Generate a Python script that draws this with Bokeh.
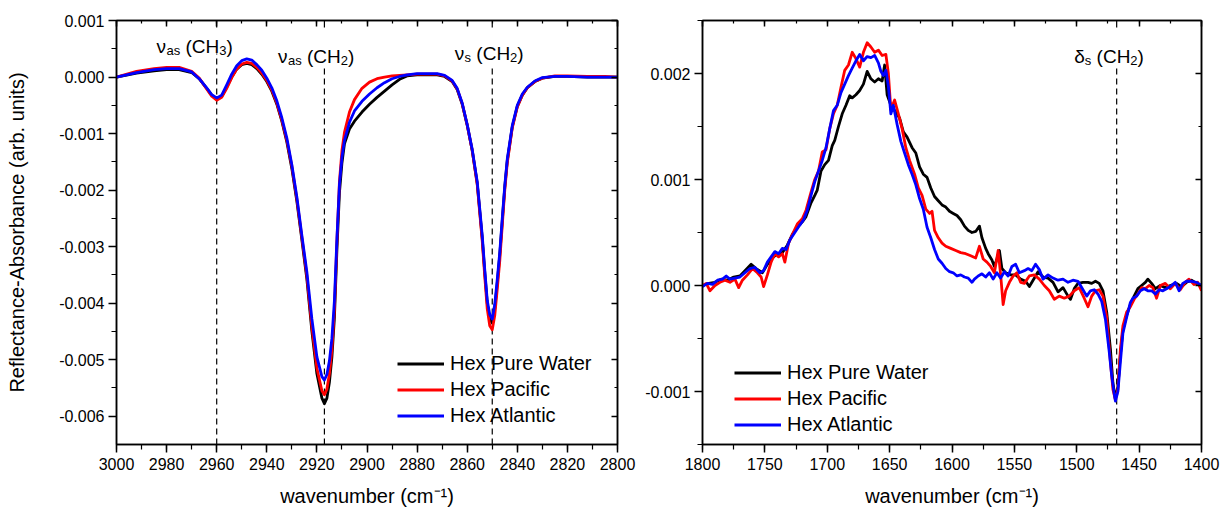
import numpy as np
from bokeh.plotting import figure
from bokeh.models import (Range1d, SingleIntervalTicker, LinearAxis, NumeralTickFormatter,
                          CustomJSTickFormatter, Label)
from bokeh.layouts import row
from bokeh.embed import file_html
from bokeh.resources import INLINE

FONT = "Liberation Sans"
SCALE = 1e-3  # values below are written in units of 0.001

# ---------------- C-H stretching region (left panel) ----------------
wn_ch = [3000, 2992, 2985, 2980, 2975, 2970, 2967, 2964, 2962, 2960,
         2958, 2956, 2954, 2952, 2950, 2948, 2946, 2944, 2942, 2940,
         2938, 2936, 2934, 2932, 2930, 2928, 2926, 2924, 2922, 2920,
         2918, 2917, 2916, 2915, 2914, 2913, 2912, 2911, 2910, 2909,
         2907, 2905, 2902, 2899, 2896, 2893, 2890, 2887, 2884, 2880,
         2876, 2872, 2869, 2866, 2864, 2862, 2860, 2858, 2856, 2854,
         2853, 2852, 2851, 2850, 2849, 2848, 2847, 2846, 2845, 2844,
         2842, 2840, 2838, 2836, 2833, 2830, 2825, 2820, 2812, 2805,
         2800]
pure_ch = [0.00, 0.07, 0.11, 0.13, 0.13, 0.08, -0.03, -0.20, -0.32, -0.39,
           -0.34, -0.18, 0.00, 0.14, 0.22, 0.24, 0.22, 0.15, 0.05, -0.08,
           -0.25, -0.48, -0.78, -1.15, -1.62, -2.20, -2.88, -3.58, -4.50, -5.25,
           -5.68, -5.78, -5.68, -5.40, -4.95, -4.25, -3.05, -2.05, -1.52, -1.18,
           -0.92, -0.78, -0.62, -0.48, -0.36, -0.25, -0.14, -0.04, 0.02, 0.04,
           0.04, 0.04, 0.01, -0.08, -0.22, -0.48, -0.85, -1.30, -1.88, -2.85,
           -3.45, -4.00, -4.28, -4.35, -4.10, -3.65, -3.15, -2.55, -1.95, -1.48,
           -0.88, -0.52, -0.32, -0.19, -0.08, -0.02, 0.01, 0.01, 0.00, 0.00,
           0.00]
pacific_ch = [0.00, 0.10, 0.15, 0.17, 0.17, 0.10, -0.02, -0.21, -0.34, -0.41,
              -0.36, -0.20, -0.01, 0.14, 0.23, 0.26, 0.24, 0.17, 0.07, -0.06,
              -0.23, -0.46, -0.76, -1.12, -1.58, -2.16, -2.84, -3.52, -4.42, -5.15,
              -5.55, -5.62, -5.52, -5.25, -4.82, -4.10, -2.90, -1.85, -1.30, -0.98,
              -0.62, -0.40, -0.20, -0.09, -0.03, 0.00, 0.02, 0.03, 0.04, 0.05,
              0.05, 0.05, 0.02, -0.07, -0.21, -0.47, -0.85, -1.30, -1.90, -2.90,
              -3.52, -4.10, -4.40, -4.47, -4.22, -3.75, -3.25, -2.62, -2.00, -1.52,
              -0.90, -0.53, -0.32, -0.19, -0.08, -0.02, 0.02, 0.02, 0.01, 0.01,
              0.00]
atlantic_ch = [0.00, 0.08, 0.13, 0.15, 0.15, 0.09, -0.03, -0.19, -0.31, -0.37,
               -0.32, -0.14, 0.05, 0.20, 0.29, 0.32, 0.30, 0.22, 0.12, -0.02,
               -0.19, -0.42, -0.72, -1.08, -1.55, -2.12, -2.80, -3.45, -4.28, -4.95,
               -5.30, -5.36, -5.26, -5.02, -4.62, -3.95, -2.85, -1.90, -1.42, -1.12,
               -0.80, -0.60, -0.43, -0.30, -0.19, -0.10, -0.03, 0.01, 0.04, 0.06,
               0.06, 0.06, 0.03, -0.06, -0.20, -0.46, -0.84, -1.28, -1.85, -2.80,
               -3.40, -3.95, -4.20, -4.28, -4.02, -3.58, -3.10, -2.50, -1.92, -1.45,
               -0.86, -0.50, -0.30, -0.18, -0.07, -0.01, 0.01, 0.01, 0.00, 0.00,
               0.00]

# ---------------- 1800-1400 region (right panel), (wavenumber, value) ----------------
pure_bend = [(1800, 0.00), (1795, 0.02), (1790, 0.03), (1785, 0.06), (1780, 0.05),
             (1775, 0.08), (1770, 0.09), (1765, 0.15), (1761, 0.20), (1757, 0.16),
             (1752, 0.12), (1748, 0.20), (1744, 0.26), (1740, 0.30), (1736, 0.31),
             (1732, 0.38), (1728, 0.48), (1724, 0.55), (1720, 0.60), (1717, 0.65),
             (1713, 0.78), (1710, 0.85), (1708, 0.90), (1705, 1.08), (1702, 1.14),
             (1699, 1.18), (1696, 1.32), (1694, 1.37), (1691, 1.50), (1688, 1.62),
             (1685, 1.70), (1682, 1.79), (1680, 1.77), (1677, 1.80), (1674, 1.84),
             (1671, 1.90), (1668, 2.02), (1665, 1.95), (1662, 1.92), (1659, 1.95),
             (1656, 1.93), (1654, 2.08), (1652, 1.80), (1649, 1.70), (1646, 1.65),
             (1642, 1.58), (1639, 1.45), (1636, 1.40), (1632, 1.30), (1629, 1.25),
             (1626, 1.12), (1623, 1.05), (1620, 1.02), (1617, 0.92), (1614, 0.84),
             (1611, 0.80), (1608, 0.76), (1605, 0.74), (1602, 0.70), (1599, 0.68),
             (1596, 0.66), (1593, 0.62), (1590, 0.56), (1587, 0.52), (1584, 0.50),
             (1581, 0.51), (1578, 0.56), (1576, 0.45), (1573, 0.35), (1571, 0.30),
             (1568, 0.24), (1566, 0.18), (1564, 0.25), (1562, 0.33), (1560, 0.16),
             (1557, 0.12), (1553, 0.10), (1549, 0.10), (1545, 0.06), (1541, 0.04),
             (1538, -0.01), (1535, 0.05), (1531, 0.13), (1527, 0.08), (1523, 0.07),
             (1519, 0.03), (1515, -0.06), (1511, -0.02), (1507, -0.10), (1505, -0.13),
             (1502, -0.03), (1499, 0.02), (1495, 0.03), (1491, 0.03), (1488, 0.02),
             (1485, 0.04), (1482, 0.02), (1479, -0.05), (1476, -0.25), (1473, -0.60),
             (1471, -0.92), (1469, -1.07), (1467, -0.95), (1465, -0.65), (1463, -0.42),
             (1460, -0.28), (1457, -0.18), (1454, -0.10), (1451, -0.03), (1448, 0.00),
             (1445, 0.03), (1443, 0.06), (1440, 0.02), (1437, -0.03), (1433, 0.00),
             (1429, -0.02), (1425, 0.00), (1420, 0.02), (1416, -0.01), (1412, 0.03),
             (1408, 0.05), (1404, 0.02), (1400, 0.00)]
pacific_bend = [(1800, 0.00), (1797, 0.02), (1794, -0.05), (1790, 0.00), (1786, 0.03),
                (1782, 0.05), (1778, 0.03), (1774, 0.06), (1771, -0.02), (1768, 0.05),
                (1764, 0.10), (1760, 0.16), (1756, 0.12), (1753, 0.08), (1751, -0.01),
                (1748, 0.10), (1745, 0.22), (1742, 0.30), (1739, 0.27), (1736, 0.30),
                (1734, 0.22), (1731, 0.40), (1728, 0.48), (1724, 0.58), (1720, 0.63),
                (1717, 0.71), (1713, 0.88), (1710, 1.00), (1707, 1.08), (1704, 1.26),
                (1701, 1.28), (1698, 1.48), (1695, 1.62), (1692, 1.70), (1689, 1.87),
                (1686, 2.03), (1683, 2.08), (1680, 2.20), (1677, 2.14), (1674, 2.06),
                (1671, 2.20), (1668, 2.29), (1665, 2.25), (1662, 2.20), (1659, 2.22),
                (1656, 2.17), (1653, 2.18), (1651, 2.00), (1649, 1.66), (1646, 1.75),
                (1643, 1.62), (1640, 1.48), (1637, 1.30), (1634, 1.18), (1630, 1.05),
                (1627, 0.92), (1624, 0.85), (1621, 0.72), (1618, 0.68), (1616, 0.70),
                (1614, 0.52), (1611, 0.45), (1608, 0.40), (1605, 0.37), (1601, 0.35),
                (1597, 0.33), (1593, 0.31), (1589, 0.30), (1585, 0.28), (1581, 0.26),
                (1578, 0.37), (1575, 0.25), (1572, 0.22), (1569, 0.18), (1566, 0.12),
                (1563, 0.33), (1561, 0.10), (1559, -0.18), (1557, -0.05), (1554, 0.03),
                (1551, 0.09), (1548, 0.12), (1545, 0.03), (1542, 0.02), (1538, 0.09),
                (1534, 0.10), (1530, 0.06), (1526, 0.00), (1522, -0.05), (1518, -0.13),
                (1514, -0.10), (1510, -0.12), (1506, -0.10), (1502, -0.05), (1498, -0.02),
                (1494, -0.12), (1491, -0.20), (1488, -0.10), (1485, -0.05), (1482, -0.04),
                (1479, -0.10), (1476, -0.30), (1473, -0.72), (1471, -0.98), (1469, -1.08),
                (1467, -0.98), (1465, -0.60), (1463, -0.38), (1460, -0.25), (1457, -0.20),
                (1454, -0.13), (1451, -0.08), (1448, -0.02), (1445, -0.03), (1442, 0.00),
                (1439, -0.02), (1436, -0.12), (1433, 0.00), (1429, 0.02), (1425, -0.03),
                (1421, 0.02), (1417, -0.04), (1413, 0.03), (1410, 0.06), (1406, 0.01),
                (1403, 0.03), (1400, -0.05)]
atlantic_bend = [(1800, -0.01), (1796, 0.02), (1792, 0.01), (1788, 0.05), (1784, 0.06),
                 (1781, 0.09), (1778, 0.06), (1774, 0.07), (1770, 0.08), (1766, 0.12),
                 (1762, 0.16), (1758, 0.17), (1754, 0.12), (1751, 0.14), (1748, 0.22),
                 (1745, 0.27), (1742, 0.32), (1739, 0.30), (1736, 0.35), (1733, 0.34),
                 (1730, 0.43), (1726, 0.50), (1722, 0.57), (1719, 0.62), (1716, 0.71),
                 (1713, 0.85), (1710, 0.98), (1707, 1.08), (1704, 1.18), (1701, 1.30),
                 (1698, 1.48), (1695, 1.65), (1692, 1.70), (1689, 1.82), (1686, 1.90),
                 (1683, 1.98), (1680, 2.05), (1677, 2.12), (1674, 2.18), (1671, 2.12),
                 (1668, 2.16), (1665, 2.15), (1662, 2.17), (1659, 2.10), (1657, 2.02),
                 (1655, 1.98), (1653, 2.03), (1651, 1.88), (1649, 1.62), (1647, 1.70),
                 (1644, 1.52), (1641, 1.36), (1638, 1.25), (1635, 1.14), (1632, 1.05),
                 (1629, 0.95), (1626, 0.82), (1623, 0.72), (1620, 0.55), (1617, 0.45),
                 (1614, 0.34), (1611, 0.25), (1608, 0.21), (1605, 0.16), (1602, 0.13),
                 (1599, 0.12), (1596, 0.09), (1593, 0.10), (1590, 0.08), (1587, 0.07),
                 (1584, 0.03), (1582, 0.06), (1579, 0.09), (1576, 0.11), (1573, 0.08),
                 (1570, 0.12), (1567, 0.06), (1564, 0.12), (1561, 0.07), (1558, 0.13),
                 (1555, 0.09), (1552, 0.18), (1549, 0.20), (1546, 0.12), (1542, 0.14),
                 (1539, 0.16), (1536, 0.14), (1533, 0.20), (1530, 0.15), (1527, 0.06),
                 (1523, 0.10), (1519, 0.07), (1515, 0.05), (1511, 0.06), (1507, 0.03),
                 (1503, 0.05), (1499, 0.04), (1495, -0.04), (1492, -0.10), (1489, -0.05),
                 (1486, -0.04), (1483, -0.08), (1480, -0.15), (1477, -0.32), (1474, -0.62),
                 (1472, -0.85), (1470, -1.02), (1469, -1.09), (1467, -1.00), (1465, -0.72),
                 (1463, -0.45), (1460, -0.30), (1457, -0.16), (1455, -0.12), (1452, -0.10),
                 (1449, -0.05), (1446, -0.03), (1443, -0.05), (1440, -0.05), (1437, -0.08),
                 (1434, -0.04), (1431, -0.05), (1428, -0.03), (1425, -0.01), (1421, 0.03),
                 (1418, -0.05), (1415, 0.02), (1412, 0.04), (1408, 0.04), (1404, 0.03),
                 (1400, 0.00)]

series_names = ["Hex Pure Water", "Hex Pacific", "Hex Atlantic"]
series_colors = ["#000000", "#ff0000", "#0000ff"]

# band assignments: (peak position, label parts, label start wavenumber, baseline px from top, line start px from top)
bands_left = [
    (2960, [("ν", 0), ("as", 1), (" ", 0), ("(CH", 0), ("3", 1), (")", 0)], 2984, 26, 33),
    (2917, [("ν", 0), ("as", 1), (" ", 0), ("(CH", 0), ("2", 1), (")", 0)], 2935.5, 36, 48),
    (2850, [("ν", 0), ("s", 1), (" ", 0), ("(CH", 0), ("2", 1), (")", 0)], 2865, 33, 45),
]
bands_right = [
    (1468, [("δ", 0), ("s", 1), (" ", 0), ("(CH", 0), ("2", 1), (")", 0)], 1502, 36, 48),
]

FRAME_H = 424
CW = {'ν': 0.52, 'δ': 0.556, 'a': 0.556, 's': 0.5, ' ': 0.278, '(': 0.333,
      'C': 0.722, 'H': 0.722, '2': 0.556, '3': 0.556, ')': 0.333}
MAIN_SIZE, SUB_SIZE = 19, 13


def make_axis_style(ax):
    ax.axis_line_color = "black"
    ax.axis_line_width = 1.5
    ax.major_tick_line_color = "black"
    ax.minor_tick_line_color = "black"
    ax.major_tick_line_width = 1.5
    ax.minor_tick_line_width = 1.2


def build(xr, yr, xint, yint, width, mb_left, mb_right, xlabel, ylabel):
    p = figure(width=width, height=513, x_range=Range1d(*xr), y_range=Range1d(*yr),
               output_backend="svg", toolbar_location=None,
               min_border_left=mb_left, min_border_right=mb_right,
               min_border_top=20, min_border_bottom=69)
    p.xgrid.visible = False
    p.ygrid.visible = False
    p.outline_line_color = "black"
    p.outline_line_width = 1.5
    p.background_fill_color = "white"
    p.border_fill_color = "white"

    xa = p.xaxis[0]
    xa.ticker = SingleIntervalTicker(interval=xint, num_minor_ticks=2)
    ya = p.yaxis[0]
    ya.ticker = SingleIntervalTicker(interval=yint, num_minor_ticks=2)
    ya.formatter = NumeralTickFormatter(format="0.000")
    for ax in (xa, ya):
        make_axis_style(ax)
        ax.major_tick_out = 8
        ax.major_tick_in = 0
        ax.minor_tick_out = 5
        ax.minor_tick_in = 0
        ax.major_label_text_font = FONT
        ax.major_label_text_font_size = "16px"
        ax.major_label_text_color = "black"
        ax.axis_label_text_font = FONT
        ax.axis_label_text_font_style = "normal"
        ax.axis_label_text_color = "black"
        ax.axis_label_text_font_size = "20px"
    xa.major_label_standoff = 5
    ya.major_label_standoff = 4
    xa.axis_label = xlabel
    xa.axis_label_standoff = 12
    if ylabel:
        ya.axis_label = ylabel
        ya.axis_label_standoff = 28

    # mirrored axes with inward ticks, no labels
    for side, interval in (("above", xint), ("right", yint)):
        ax = LinearAxis(ticker=SingleIntervalTicker(interval=interval, num_minor_ticks=2),
                        formatter=CustomJSTickFormatter(code="return ''"))
        make_axis_style(ax)
        ax.major_tick_in = 6
        ax.major_tick_out = 0
        ax.minor_tick_in = 3
        ax.minor_tick_out = 0
        ax.major_label_text_font_size = "1px"
        ax.major_label_standoff = 0
        p.add_layout(ax, side)
    return p


def px2y(p, px):
    y0, y1 = p.y_range.start, p.y_range.end
    return y1 - px / FRAME_H * (y1 - y0)


def add_bands(p, bands):
    y0, y1 = p.y_range.start, p.y_range.end
    xs = [b[0] for b in bands]
    p.segment(x0=xs, y0=[y0] * len(xs), x1=xs, y1=[px2y(p, b[4]) for b in bands],
              line_color="black", line_width=1.2, line_dash="6 4")
    p.segment(x0=xs, y0=[y1] * len(xs), x1=xs, y1=[px2y(p, 7) for b in bands],
              line_color="black", line_width=1.2)
    for _, parts, xstart, base, _ in bands:
        dx = 0.0
        for txt, sub in parts:
            size = SUB_SIZE if sub else MAIN_SIZE
            if txt.strip():
                off = base + (4 if sub else 0)
                p.add_layout(Label(x=xstart, y=y1, x_offset=dx, y_offset=-off, text=txt,
                                   text_font=FONT, text_font_size=f"{size}px",
                                   text_color="black", text_baseline="alphabetic",
                                   text_align="left"))
            dx += sum(CW[c] for c in txt) * size


def style_legend(p, loc):
    lg = p.legend[0]
    lg.location = loc
    lg.label_text_font = FONT
    lg.label_text_font_size = "20px"
    lg.label_text_color = "black"
    lg.glyph_width = 47
    lg.glyph_height = 23
    lg.label_height = 23
    lg.spacing = 3
    lg.padding = 0
    lg.margin = 0
    lg.label_standoff = 6
    lg.border_line_color = None
    lg.background_fill_alpha = 0


# ---------------- left panel ----------------
p1 = build((3000, 2800), (-0.0065, 0.001), 20, 0.001, 636, 116, 19,
           "wavenumber (cm⁻¹)", "Reflectance-Absorbance (arb. units)")
add_bands(p1, bands_left)
wn1 = np.array(wn_ch)
for name, col, vals in zip(series_names, series_colors, (pure_ch, pacific_ch, atlantic_ch)):
    p1.line(wn1, np.array(vals) * SCALE, line_color=col, line_width=2.8,
            line_join="round", legend_label=name)
style_legend(p1, (281, 17))

# ---------------- right panel ----------------
p2 = build((1800, 1400), (-0.0015, 0.0025), 50, 0.001, 586, 66, 21,
           "wavenumber (cm⁻¹)", None)
add_bands(p2, bands_right)
for name, col, pairs in zip(series_names, series_colors, (pure_bend, pacific_bend, atlantic_bend)):
    xs = np.array([a for a, _ in pairs])
    ys = np.array([b for _, b in pairs]) * SCALE
    p2.line(xs, ys, line_color=col, line_width=2.8, line_join="round", legend_label=name)
style_legend(p2, (32, 8))

layout = row(p1, p2)
open("out.html", "w").write(file_html(layout, INLINE))
